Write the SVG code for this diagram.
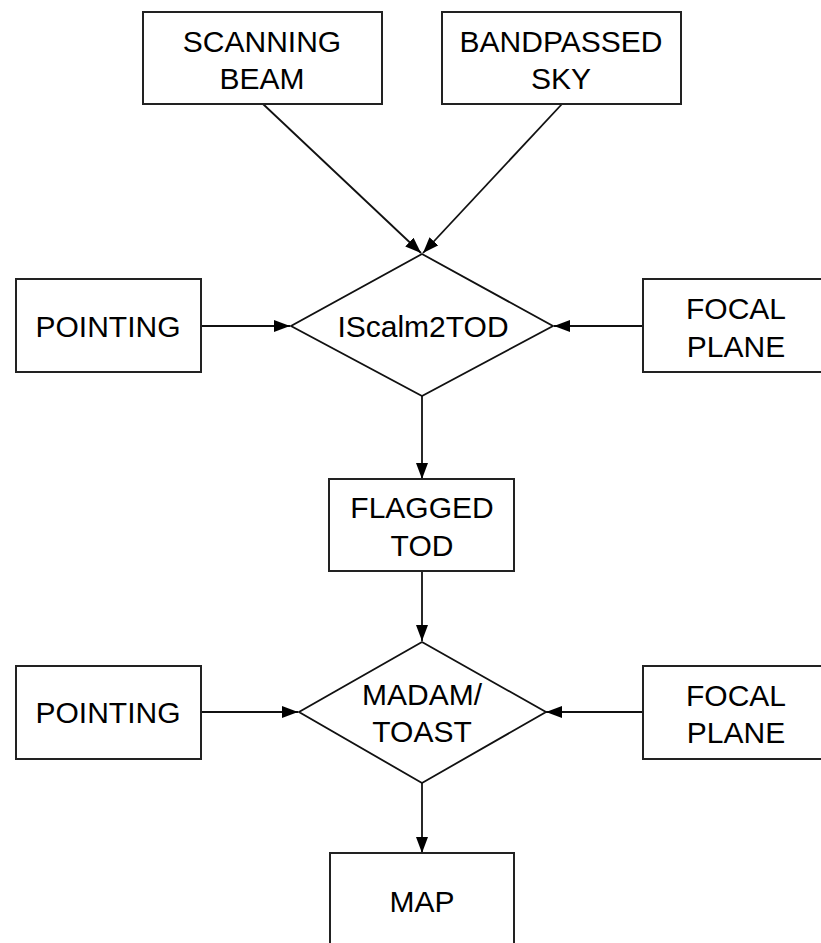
<svg xmlns="http://www.w3.org/2000/svg" width="821" height="943" viewBox="0 0 821 943">
<style>
.box{fill:#fff;stroke:#222;stroke-width:2}
.dia{fill:#fff;stroke:#111;stroke-width:1.8}
.lbl{font-family:"Liberation Sans",Arial,sans-serif;font-size:30px;fill:#000;text-anchor:middle}
.con{stroke:#111;stroke-width:1.8;fill:none;marker-end:url(#ah)}
</style>
<defs>
<marker id="ah" markerUnits="userSpaceOnUse" markerWidth="16" markerHeight="12" refX="16" refY="6" orient="auto">
<path d="M0,0 L16,6 L0,12 Z" fill="#000"/>
</marker>
</defs>
<rect width="821" height="943" fill="#fff"/>
<g id="connectors">
<line class="con" x1="263" y1="104" x2="421" y2="253"/>
<line class="con" x1="562" y1="104" x2="423" y2="253"/>
<line class="con" x1="201" y1="326" x2="290" y2="326"/>
<line class="con" x1="643" y1="326" x2="554" y2="326"/>
<line class="con" x1="422" y1="396" x2="422" y2="479"/>
<line class="con" x1="422" y1="571" x2="422" y2="641"/>
<line class="con" x1="201" y1="712" x2="298" y2="712"/>
<line class="con" x1="643" y1="712" x2="546" y2="712"/>
<line class="con" x1="422" y1="783" x2="422" y2="853"/>
</g>
<g id="scanning-beam">
<rect class="box" x="143" y="12" width="239" height="92"/>
<text class="lbl" x="262" y="52">SCANNING</text>
<text class="lbl" x="262" y="89">BEAM</text>
</g>
<g id="bandpassed-sky">
<rect class="box" x="442" y="12" width="239" height="92"/>
<text class="lbl" x="561" y="52">BANDPASSED</text>
<text class="lbl" x="561" y="89">SKY</text>
</g>
<g id="pointing-1">
<rect class="box" x="16" y="279" width="185" height="93"/>
<text class="lbl" x="108" y="337">POINTING</text>
</g>
<g id="iscalm2tod">
<polygon class="dia" points="422,254 553,326 422,396 291,326"/>
<text class="lbl" x="423" y="337">IScalm2TOD</text>
</g>
<g id="focal-plane-1">
<rect class="box" x="643" y="279" width="185" height="93"/>
<text class="lbl" x="736" y="319">FOCAL</text>
<text class="lbl" x="736" y="357">PLANE</text>
</g>
<g id="flagged-tod">
<rect class="box" x="329" y="479" width="185" height="92"/>
<text class="lbl" x="422" y="518">FLAGGED</text>
<text class="lbl" x="422" y="556">TOD</text>
</g>
<g id="pointing-2">
<rect class="box" x="16" y="666" width="185" height="93"/>
<text class="lbl" x="108" y="723">POINTING</text>
</g>
<g id="madam-toast">
<polygon class="dia" points="422,642 546,712 422,783 299,712"/>
<text class="lbl" x="422" y="705">MADAM/</text>
<text class="lbl" x="422" y="742">TOAST</text>
</g>
<g id="focal-plane-2">
<rect class="box" x="643" y="666" width="185" height="93"/>
<text class="lbl" x="736" y="706">FOCAL</text>
<text class="lbl" x="736" y="743">PLANE</text>
</g>
<g id="map">
<rect class="box" x="330" y="853" width="184" height="93"/>
<text class="lbl" x="422" y="912">MAP</text>
</g>
</svg>
